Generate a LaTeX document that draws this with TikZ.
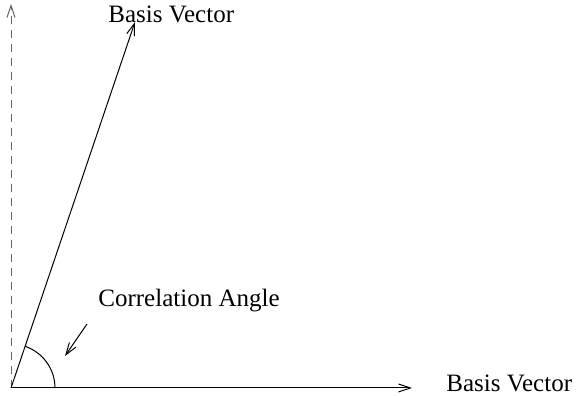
\documentclass[tikz,border=0pt]{standalone}
\usepackage{fontspec}
\setmainfont{Liberation Serif}
\usetikzlibrary{arrows.meta, positioning}

\begin{document}
\begin{tikzpicture}[
  x=0.5pt, y=0.5pt,
  every node/.style={font=\fontsize{12.5}{15}\selectfont, inner sep=0pt},
  vec/.style={line width=0.5pt, -{Straight Barb[length=6pt, width=4pt]}},
  axis/.style={vec, dashed, draw=black!60, dash pattern=on 4pt off 3pt},
  lbl/.style={anchor=west},
]
  \useasboundingbox (0,0) rectangle (580,396);
  \coordinate (origin) at (11,8);
  \coordinate (xtip) at (412,8);
  \coordinate (ytip) at (11,392);
  \coordinate (vtip) at (135,374);

  \draw[axis] (origin) -- (ytip);
  \draw[vec] (origin) -- (xtip);
  \draw[vec] (origin) -- (vtip);
  \draw[line width=0.5pt] ([shift={(44,0)}]origin) arc[start angle=0, end angle=71.3, radius=44];

  \node[lbl] (toplabel) at (108,382) {Basis Vector};
  \node[lbl] (rightlabel) at (446,13) {Basis Vector};
  \node[lbl] (anglelabel) at (98,95) {Correlation Angle};

  \coordinate (ptr) at (87,72);
  \coordinate (arcpt) at (65,40);
  \draw[vec] (ptr) -- (arcpt);
\end{tikzpicture}
\end{document}
